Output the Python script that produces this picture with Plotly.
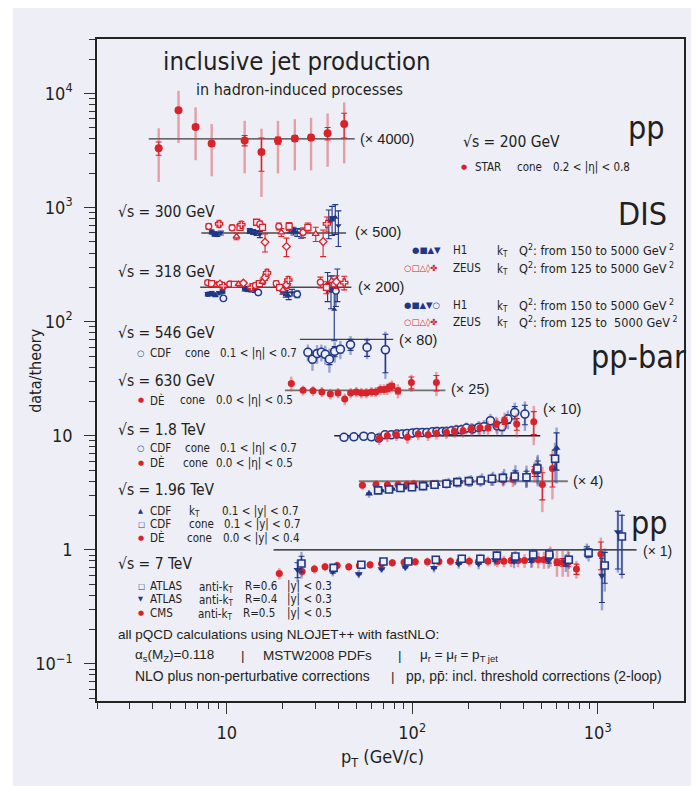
import plotly.graph_objects as go

# ---------------- data (data/theory ratios) ----------------
# pp, sqrt(s)=200 GeV, STAR
star_pt = [4.3, 5.5, 6.8, 8.3, 12.5, 15.4, 18.9, 23.3, 28.5, 35.0, 43.0]
star_r = [0.83, 1.78, 1.27, 0.91, 0.97, 0.77, 0.97, 1.01, 1.03, 1.12, 1.35]
star_tot = [0.41, 0.86, 0.62, 0.44, 0.47, 0.46, 0.47, 0.48, 0.50, 0.55, 0.74]
star_stat = [0.11, 0.05, 0.05, 0.04, 0.10, 0.25, 0.07, 0.06, 0.06, 0.14, 0.33]

# DIS 300 GeV
h1_300_pt = [8.3, 8.6, 8.9, 9.3, 13.3, 13.9, 14.5, 15.1, 21.8, 22.9, 24.0, 25.2, 35.5, 37.0, 38.5, 40.0]
h1_300_r = [1.02, 0.98, 0.97, 1.0, 1.04, 1.02, 1.0, 0.97, 1.08, 1.04, 1.01, 0.99, 1.24, 1.33, 1.37, 1.16]
h1_300_e = [0.04, 0.04, 0.04, 0.04, 0.05, 0.05, 0.05, 0.06, 0.08, 0.08, 0.08, 0.09, 0.35, 0.38, 0.40, 0.40]
h1_300_sym = ["circle", "square", "triangle-up", "triangle-down"] * 4
zeus_300_pt = [8.0, 9.1, 10.7, 11.3, 11.8, 12.0, 14.5, 15.1, 15.6, 16.1, 19.1, 19.7, 21.0, 21.7, 25.8, 27.4, 30.2, 33.1, 34.7]
zeus_300_r = [1.14, 1.2, 1.11, 0.93, 1.12, 1.18, 1.24, 1.2, 1.12, 0.83, 1.14, 1.01, 0.76, 1.14, 1.01, 1.12, 0.98, 0.84, 1.2]
zeus_300_e = [0.06, 0.07, 0.06, 0.06, 0.06, 0.08, 0.07, 0.07, 0.07, 0.15, 0.08, 0.08, 0.14, 0.09, 0.10, 0.10, 0.14, 0.22, 0.18]
zeus_300_sym = ["circle", "cross", "circle", "triangle-up", "square", "cross", "square", "circle", "square",
                "diamond", "circle", "triangle-up", "diamond", "square", "circle", "square", "triangle-up",
                "diamond", "cross"]

# DIS 318 GeV
h1_318_pt = [7.9, 8.3, 8.7, 9.1, 9.5, 12.5, 13.0, 13.6, 14.2, 20.0, 20.8, 21.6, 22.5, 35.0, 36.5, 38.0, 39.5]
h1_318_r = [0.87, 0.88, 0.86, 0.89, 0.92, 0.97, 0.96, 0.95, 0.94, 0.93, 0.88, 0.84, 0.90, 1.05, 0.95, 0.64, 1.10]
h1_318_e = [0.03, 0.03, 0.03, 0.03, 0.03, 0.04, 0.04, 0.04, 0.04, 0.06, 0.06, 0.06, 0.06, 0.30, 0.30, 0.30, 0.35]
h1_318_sym = ["circle", "square", "triangle-up", "triangle-down", "circle", "circle", "square", "triangle-up",
              "triangle-down", "circle", "square", "triangle-up", "triangle-down", "circle", "square",
              "triangle-up", "triangle-down"]
h1o_318_pt = [9.6, 14.8, 24.0, 38.8]
h1o_318_r = [0.80, 0.90, 0.87, 0.93]
h1o_318_e = [0.03, 0.04, 0.06, 0.25]
zeus_318_pt = [7.9, 8.3, 8.8, 9.2, 9.6, 10.4, 11.0, 11.6, 12.3, 13.6, 14.3, 15.0, 15.6, 16.1, 16.5,
               18.5, 19.3, 20.1, 21.0, 21.5, 32.0, 34.5, 36.8, 39.0, 43.0]
zeus_318_r = [1.10, 1.08, 1.05, 1.07, 1.03, 1.07, 1.06, 1.07, 1.09, 1.00, 1.04, 1.08, 1.12, 1.22, 1.34,
              1.08, 1.00, 0.95, 1.05, 1.16, 1.11, 1.00, 1.14, 1.12, 1.10]
zeus_318_e = [0.05, 0.05, 0.05, 0.05, 0.05, 0.04, 0.04, 0.04, 0.04, 0.05, 0.05, 0.05, 0.06, 0.07, 0.08,
              0.06, 0.06, 0.07, 0.07, 0.08, 0.12, 0.12, 0.13, 0.14, 0.15]
zeus_318_sym = ["circle", "square", "triangle-up", "diamond", "cross"] * 5

# ppbar 546 GeV CDF
cdf546_pt = [27.4, 29.0, 30.7, 32.4, 34.0, 35.8, 38.2, 41.0, 46.5, 57.1, 71.7]
cdf546_r = [0.77, 0.67, 0.75, 0.77, 0.74, 0.67, 0.785, 0.82, 0.90, 0.85, 0.81]
cdf546_tot = [0.13, 0.14, 0.14, 0.13, 0.14, 0.16, 0.16, 0.15, 0.17, 0.18, 0.36]
cdf546_stat = [0.05, 0.05, 0.05, 0.05, 0.05, 0.07, 0.08, 0.06, 0.10, 0.14, 0.30]

# ppbar 630 GeV D0
d0630_pt = [22.3, 25.8, 29.2, 32.6, 36.2, 39.8, 43.3, 46.6, 50.0, 53.2, 56.6, 60.3, 63.6, 67.4, 70.5,
            73.2, 75.6, 77.8, 83.8, 99.0, 135.0]
d0630_r = [1.15, 1.00, 0.99, 0.97, 0.93, 0.95, 0.84, 0.95, 0.97, 0.95, 0.95, 0.97, 0.97, 1.02, 1.02,
           1.03, 1.07, 1.09, 0.99, 1.17, 1.17]
d0630_tot = [0.17, 0.10, 0.10, 0.10, 0.10, 0.10, 0.10, 0.10, 0.10, 0.10, 0.10, 0.10, 0.10, 0.11, 0.11,
             0.12, 0.12, 0.13, 0.14, 0.20, 0.28]
d0630_stat = [0.03, 0.02, 0.02, 0.02, 0.02, 0.02, 0.02, 0.02, 0.03, 0.03, 0.03, 0.03, 0.03, 0.04, 0.04,
              0.04, 0.05, 0.05, 0.06, 0.14, 0.18]

# ppbar 1.8 TeV
cdf18_pt = [42.9, 48.5, 54.8, 60.3, 66.0, 71.3, 77.2, 82.8, 88.1, 93.7, 100.2, 106, 113, 120, 128.5, 136,
            145.5, 153, 162.6, 173, 184, 196, 211, 228, 244, 264, 287, 305, 328, 357, 405]
cdf18_r = [0.97, 0.98, 0.99, 0.98, 0.955, 1.02, 1.02, 1.035, 1.035, 1.047, 1.056, 1.069, 1.069, 1.069,
           1.084, 1.091, 1.091, 1.091, 1.106, 1.122, 1.129, 1.168, 1.145, 1.183, 1.20, 1.354, 1.224, 1.206,
           1.401, 1.601, 1.55]
cdf18_tot = [0.08, 0.08, 0.08, 0.08, 0.08, 0.08, 0.08, 0.09, 0.09, 0.09, 0.10, 0.10, 0.10, 0.10, 0.11, 0.11,
             0.11, 0.12, 0.12, 0.13, 0.13, 0.14, 0.14, 0.16, 0.17, 0.20, 0.20, 0.22, 0.26, 0.35, 0.45]
cdf18_stat = [0.02, 0.02, 0.02, 0.02, 0.02, 0.02, 0.02, 0.02, 0.02, 0.02, 0.02, 0.02, 0.02, 0.02, 0.03, 0.03,
              0.03, 0.03, 0.03, 0.04, 0.04, 0.04, 0.05, 0.05, 0.06, 0.08, 0.08, 0.10, 0.12, 0.20, 0.30]
d018_pt = [66.4, 73.4, 82.2, 94.2, 107.7, 121.8, 135, 153, 169, 188, 208, 232, 256, 284, 315, 366, 452]
d018_r = [0.95, 1.00, 1.02, 0.97, 1.035, 1.02, 1.047, 1.07, 1.09, 1.106, 1.145, 1.168, 1.168, 1.267, 1.354,
          1.267, 1.327]
d018_tot = [0.12, 0.12, 0.12, 0.12, 0.12, 0.12, 0.12, 0.13, 0.13, 0.14, 0.15, 0.16, 0.17, 0.20, 0.24, 0.30, 0.50]
d018_stat = [0.01, 0.01, 0.01, 0.01, 0.01, 0.01, 0.01, 0.02, 0.02, 0.02, 0.03, 0.04, 0.05, 0.07, 0.10, 0.15, 0.30]

# ppbar 1.96 TeV
d0196_pt = [53.9, 63.8, 73.5, 83.8, 93.7, 101.9, 114.3, 129.4, 151, 173, 200, 231, 267, 309, 349, 413, 457, 503, 570]
d0196_r = [0.92, 0.935, 0.93, 0.93, 0.935, 0.948, 0.935, 0.948, 0.96, 0.98, 0.994, 1.013, 1.027, 1.027, 1.04,
           1.068, 1.22, 0.935, 1.29]
d0196_tot = [0.08, 0.08, 0.08, 0.08, 0.08, 0.08, 0.08, 0.08, 0.09, 0.10, 0.10, 0.11, 0.12, 0.13, 0.15, 0.18,
             0.25, 0.40, 0.60]
d0196_stat = [0.01, 0.01, 0.01, 0.01, 0.01, 0.01, 0.01, 0.01, 0.01, 0.02, 0.02, 0.02, 0.03, 0.04, 0.05, 0.07,
              0.12, 0.25, 0.40]
cdfc196_pt = [65.5, 75, 86.4, 99.8, 114.4, 132, 153, 175, 202, 234, 269, 308, 357, 413, 473, 589]
cdfc196_r = [0.83, 0.845, 0.87, 0.885, 0.905, 0.93, 0.948, 0.98, 1.0, 1.013, 1.049, 1.068, 1.10, 1.083, 1.29, 1.57]
cdfc196_tot = [0.06, 0.06, 0.07, 0.07, 0.08, 0.08, 0.09, 0.10, 0.11, 0.12, 0.13, 0.15, 0.18, 0.20, 0.35, 0.60]
cdfc196_stat = [0.01, 0.01, 0.01, 0.01, 0.01, 0.01, 0.01, 0.02, 0.02, 0.02, 0.03, 0.04, 0.05, 0.07, 0.12, 0.30]
cdfk196_pt = [58.5, 68, 78, 90, 103, 118, 136, 157, 180, 207, 238, 273, 313, 360, 413, 475, 600]
cdfk196_r = [0.775, 0.83, 0.855, 0.875, 0.90, 0.92, 0.94, 0.97, 0.99, 1.01, 1.04, 1.06, 1.10, 1.16, 1.12, 1.30, 1.95]
cdfk196_tot = [0.06, 0.06, 0.07, 0.07, 0.08, 0.08, 0.09, 0.10, 0.11, 0.12, 0.13, 0.15, 0.18, 0.22, 0.25, 0.40, 1.00]
cdfk196_stat = [0.01, 0.01, 0.01, 0.01, 0.01, 0.01, 0.01, 0.02, 0.02, 0.02, 0.03, 0.04, 0.05, 0.07, 0.10, 0.20, 0.70]

# pp 7 TeV
cms_pt = [19.2, 25.5, 29.7, 33.9, 39.4, 45.5, 51.9, 59.3, 68.4, 78.1, 90.4, 103.8, 120.8, 139.3, 160.7, 180,
          203, 228, 256, 287, 312, 341, 372, 403, 443, 478, 513, 556, 603, 647, 692, 768, 1040]
cms_r = [0.62, 0.645, 0.68, 0.71, 0.73, 0.71, 0.73, 0.74, 0.755, 0.77, 0.78, 0.785, 0.785, 0.79, 0.795, 0.795,
         0.795, 0.795, 0.795, 0.795, 0.795, 0.805, 0.805, 0.805, 0.82, 0.82, 0.82, 0.89, 0.78, 0.78, 0.78, 0.68, 0.92]
cms_tot = [0.07, 0.06, 0.06, 0.06, 0.06, 0.06, 0.06, 0.06, 0.06, 0.06, 0.06, 0.06, 0.07, 0.07, 0.07, 0.07,
           0.08, 0.08, 0.08, 0.09, 0.09, 0.10, 0.10, 0.11, 0.12, 0.13, 0.14, 0.18, 0.20, 0.20, 0.20, 0.12, 0.36]
cms_stat = [0.01, 0.01, 0.01, 0.01, 0.01, 0.01, 0.01, 0.01, 0.01, 0.01, 0.01, 0.01, 0.01, 0.01, 0.01, 0.01,
            0.01, 0.01, 0.01, 0.01, 0.01, 0.02, 0.02, 0.02, 0.02, 0.03, 0.03, 0.04, 0.05, 0.06, 0.07, 0.07, 0.25]
atl6_pt = [25.3, 37.7, 53.2, 70, 95.3, 134, 185, 233, 286, 360, 449, 548, 698, 893, 1091, 1350]
atl6_r = [0.76, 0.695, 0.74, 0.79, 0.79, 0.82, 0.835, 0.835, 0.89, 0.875, 0.91, 0.91, 0.82, 0.94, 0.73, 1.31]
atl6_tot = [0.20, 0.06, 0.05, 0.05, 0.05, 0.06, 0.07, 0.08, 0.09, 0.10, 0.11, 0.12, 0.14, 0.15, 0.30, 0.75]
atl6_stat = [0.12, 0.02, 0.01, 0.01, 0.01, 0.01, 0.01, 0.01, 0.02, 0.02, 0.03, 0.04, 0.06, 0.08, 0.22, 0.70]
atl4_pt = [24.1, 37.3, 51.5, 68.4, 91.8, 131, 178, 228, 279, 354, 438, 543, 673, 873, 1054, 1285]
atl4_r = [0.67, 0.645, 0.615, 0.68, 0.705, 0.695, 0.755, 0.755, 0.815, 0.79, 0.805, 0.805, 0.78, 0.985, 0.595, 1.43]
atl4_tot = [0.15, 0.06, 0.05, 0.05, 0.05, 0.06, 0.07, 0.08, 0.09, 0.10, 0.11, 0.12, 0.14, 0.15, 0.30, 0.80]
atl4_stat = [0.10, 0.02, 0.01, 0.01, 0.01, 0.01, 0.01, 0.01, 0.02, 0.02, 0.03, 0.04, 0.06, 0.08, 0.25, 0.75]

# offset factors (as drawn) and reference-line pT ranges
offsets = {"star": 4000, "dis300": 600, "dis318": 200, "cdf546": 70, "d0630": 25, "tev18": 10, "tev196": 4, "lhc7": 1}
ref_ranges = {"star": [3.8, 49], "dis300": [7.3, 44], "dis318": [7.2, 47], "cdf546": [24.8, 79],
              "d0630": [20.6, 151], "tev18": [38, 490], "tev196": [51.6, 690], "lhc7": [17.9, 1620]}
ref_colors = {"star": "#3c3c3c", "dis300": "#4a4a4a", "dis318": "#4a4a4a", "cdf546": "#444444",
              "d0630": "#707070", "tev18": "#222222", "tev196": "#7a7a7a", "lhc7": "#111111"}
ref_widths = {"star": 1.3, "dis300": 1.5, "dis318": 1.5, "cdf546": 1.3, "d0630": 1.8, "tev18": 1.3,
              "tev196": 2.0, "lhc7": 1.3}

# ---------------- style ----------------
BG = "#edeef6"
RED = "#d9232b"
RED_L = "rgba(222,60,66,0.45)"
BLUE = "#1f3785"
BLUE_L = "rgba(50,75,160,0.45)"
TXT = "#231f20"
SANS = "Liberation Sans, Arial, Helvetica, sans-serif"
NARROW = "DejaVu Sans Condensed, Liberation Sans, sans-serif"

# page is offset by the 8px body margin: figure size and plot-area edges in page pixels
OFF = 8
W, H = 699 - OFF, 786 - OFF
L, R, T, B = 97.3, 684.3, 39.0, 700.7

fig = go.Figure()

# reference lines
for key, (a, b) in ref_ranges.items():
    f = offsets[key]
    fig.add_trace(go.Scatter(x=[a, b], y=[f, f], mode="lines",
                             line=dict(color=ref_colors[key], width=ref_widths[key]),
                             hoverinfo="skip", showlegend=False))


def series(x, r, factor, tot, stat, color, light, symbol, size, hollow=False, lw=1.5, cap=3):
    y = [v * factor for v in r]
    if tot is not None:
        fig.add_trace(go.Scatter(x=x, y=y, mode="markers",
                                 marker=dict(size=1, color="rgba(0,0,0,0)"),
                                 error_y=dict(type="data", array=[e * factor for e in tot],
                                              color=light, thickness=2.4, width=0),
                                 hoverinfo="skip", showlegend=False))
    err = None
    if stat is not None:
        err = dict(type="data", array=[e * factor for e in stat], color=color, thickness=1.1, width=cap)
    mk = dict(symbol=symbol, size=size, color=BG if hollow else color,
              line=dict(color=color, width=lw if hollow else 0))
    fig.add_trace(go.Scatter(x=x, y=y, mode="markers", marker=mk, error_y=err,
                             hoverinfo="skip", showlegend=False))


# STAR
series(star_pt, star_r, offsets["star"], star_tot, star_stat, RED, RED_L, "circle", 8)
# DIS
series(h1_300_pt, h1_300_r, offsets["dis300"], None, h1_300_e, BLUE, BLUE_L, h1_300_sym, 5.5, cap=3)
series(zeus_300_pt, zeus_300_r, offsets["dis300"], None, zeus_300_e, RED, RED_L, zeus_300_sym, 6,
       hollow=True, lw=1.3, cap=3)
series(h1_318_pt, h1_318_r, offsets["dis318"], None, h1_318_e, BLUE, BLUE_L, h1_318_sym, 5.5, cap=3)
series(h1o_318_pt, h1o_318_r, offsets["dis318"], None, h1o_318_e, BLUE, BLUE_L, "circle", 6.5,
       hollow=True, lw=1.4, cap=3)
series(zeus_318_pt, zeus_318_r, offsets["dis318"], None, zeus_318_e, RED, RED_L, zeus_318_sym, 6,
       hollow=True, lw=1.3, cap=3)
# 546 GeV
series(cdf546_pt, cdf546_r, offsets["cdf546"], cdf546_tot, cdf546_stat, BLUE, BLUE_L, "circle", 8,
       hollow=True, lw=1.6)
# 630 GeV
series(d0630_pt, d0630_r, offsets["d0630"], d0630_tot, d0630_stat, RED, RED_L, "circle", 7)
# 1.8 TeV
series(cdf18_pt, cdf18_r, offsets["tev18"], cdf18_tot, cdf18_stat, BLUE, BLUE_L, "circle", 8,
       hollow=True, lw=1.6)
series(d018_pt, d018_r, offsets["tev18"], d018_tot, d018_stat, RED, RED_L, "circle", 7)
# 1.96 TeV
series(d0196_pt, d0196_r, offsets["tev196"], d0196_tot, d0196_stat, RED, RED_L, "circle", 7)
series(cdfk196_pt, cdfk196_r, offsets["tev196"], cdfk196_tot, cdfk196_stat, BLUE, BLUE_L, "triangle-up", 7)
series(cdfc196_pt, cdfc196_r, offsets["tev196"], cdfc196_tot, cdfc196_stat, BLUE, BLUE_L, "square", 7,
       hollow=True, lw=1.6)
# 7 TeV
series(cms_pt, cms_r, offsets["lhc7"], cms_tot, cms_stat, RED, RED_L, "circle", 7)
series(atl4_pt, atl4_r, offsets["lhc7"], atl4_tot, atl4_stat, BLUE, BLUE_L, "triangle-down", 7)
series(atl6_pt, atl6_r, offsets["lhc7"], atl6_tot, atl6_stat, BLUE, BLUE_L, "square", 7,
       hollow=True, lw=1.6)

# ---------------- text ----------------
ann = []


def px(X):
    return (X - L) / (R - L)


def py(Y):
    return (B - Y) / (B - T)


def txt(X, Y, s, size=11.5, family=NARROW, anchor="left", color=TXT, angle=0):
    ann.append(dict(x=px(X), y=py(Y), xref="paper", yref="paper", text=s, showarrow=False,
                    xanchor=anchor, yanchor="middle", textangle=angle,
                    font=dict(family=family, size=size, color=color)))


def sym(X, Y, s, color, size=8):
    txt(X, Y, s, size=size, family="DejaVu Sans, sans-serif", color=color)


BIG = 32
SQ = 15.5
SC = 14.5
QS = 12.6

txt(297.6, 61, "inclusive jet production", 25.5, NARROW, "center")
txt(300, 89, "in hadron-induced processes", 16, NARROW, "center")

txt(358, 138.5, "(× 4000)", SC, SANS)
txt(626, 128, "pp", BIG)
txt(461, 142, "√s = 200 GeV", SQ)
sym(459.5, 167, "●", RED, 7)
txt(473, 167, "STAR")
txt(515.7, 167, "cone")
txt(551.3, 167, "0.2 < |η| < 0.8")

txt(616, 214, "DIS", BIG)
txt(116, 212, "√s = 300 GeV", SQ)
txt(353, 232, "(× 500)", SC, SANS)
sym(410, 250, "●■▲▼", BLUE, 8.5)
txt(451, 250, "H1")
txt(495.7, 251, "k<sub>T</sub>")
txt(517.3, 250, "Q<sup>2</sup>: from 150 to 5000 GeV<sup> 2</sup>", QS)
sym(402, 268, "○□△◊✤", RED, 8.5)
txt(451, 268, "ZEUS")
txt(495.7, 269, "k<sub>T</sub>")
txt(517.3, 268, "Q<sup>2</sup>: from 125 to 5000 GeV<sup> 2</sup>", QS)

txt(116, 272, "√s = 318 GeV", SQ)
txt(356, 286.7, "(× 200)", SC, SANS)
sym(402, 305, "●■▲▼○", BLUE, 8.5)
txt(451, 305, "H1")
txt(495.7, 306, "k<sub>T</sub>")
txt(517.3, 305, "Q<sup>2</sup>: from 150 to 5000 GeV<sup> 2</sup>", QS)
sym(402, 321.7, "○□△◊✤", RED, 8.5)
txt(451, 321.7, "ZEUS")
txt(495.7, 322.7, "k<sub>T</sub>")
txt(517.3, 321.7, "Q<sup>2</sup>: from 125 to  5000 GeV<sup> 2</sup>", QS)

txt(116, 333, "√s = 546 GeV", SQ)
sym(135.5, 352.7, "○", BLUE, 8.5)
txt(148.3, 352.7, "CDF")
txt(183.3, 352.7, "cone")
txt(218, 352.7, "0.1 < |η| < 0.7")
txt(397, 340, "(× 80)", SC, SANS)
txt(589, 357, "pp-bar", BIG)

txt(116, 381, "√s = 630 GeV", SQ)
sym(136, 400, "●", RED, 7)
txt(148.3, 400, "DÈ")
txt(178, 400, "cone")
txt(214, 400, "0.0 < |η| < 0.5")
txt(449.3, 389.3, "(× 25)", SC, SANS)

txt(116, 430, "√s = 1.8 TeV", SQ)
sym(135.5, 447.7, "○", BLUE, 8.5)
txt(148.3, 447.7, "CDF")
txt(183.3, 447.7, "cone")
txt(218, 447.7, "0.1 < |η| < 0.7")
sym(136, 462.7, "●", RED, 7)
txt(148.3, 462.7, "DÈ")
txt(181.7, 462.7, "cone")
txt(214, 462.7, "0.0 < |η| < 0.5")
txt(541.7, 409.3, "(× 10)", SC, SANS)

txt(116, 490, "√s = 1.96 TeV", SQ)
sym(136, 510.7, "▲", BLUE, 6.5)
txt(148.7, 510.7, "CDF")
txt(186.9, 511.2, "k<sub>T</sub>")
txt(220.5, 510.7, "0.1 < |y| < 0.7")
sym(136, 523.8, "□", BLUE, 7.5)
txt(148.7, 523.8, "CDF")
txt(186.9, 523.8, "cone")
txt(222.4, 523.8, "0.1 < |y| < 0.7")
sym(136, 537.7, "●", RED, 7)
txt(148.7, 537.7, "DÈ")
txt(185, 537.7, "cone")
txt(221, 537.7, "0.0 < |y| < 0.4")
txt(571, 480.7, "(× 4)", SC, SANS)

txt(629, 523, "pp", BIG)
txt(641, 550.5, "(× 1)", 14, SANS)
txt(116, 564, "√s = 7 TeV", SQ)
sym(136, 586, "□", BLUE, 7.5)
txt(148.7, 586, "ATLAS")
txt(197.5, 587, "anti-k<sub>T</sub>")
txt(243.4, 586, "R=0.6")
txt(285, 586, "|y| < 0.3")
sym(136, 599, "▼", BLUE, 6.5)
txt(148.7, 599, "ATLAS")
txt(197.5, 600, "anti-k<sub>T</sub>")
txt(243.4, 599, "R=0.4")
txt(285, 599, "|y| < 0.3")
sym(136, 613, "●", RED, 7)
txt(148.7, 613, "CMS")
txt(196.4, 614, "anti-k<sub>T</sub>")
txt(241.5, 613, "R=0.5")
txt(285, 613, "|y| < 0.5")

FS = 13.5
txt(116, 634, "all pQCD calculations using NLOJET++ with fastNLO:", FS, SANS)
txt(133, 655, "α<sub>s</sub>(M<sub>Z</sub>)=0.118", FS, SANS)
txt(239, 655, "|", FS, SANS)
txt(261, 655, "MSTW2008 PDFs", FS, SANS)
txt(396, 655, "|", FS, SANS)
txt(418, 655, "μ<sub>r</sub> = μ<sub>f</sub> = p<sub>T jet</sub>", FS, SANS)
txt(133, 676, "NLO plus non-perturbative corrections", 13.9, SANS)
txt(389, 676, "|", FS, SANS)
txt(404, 676, "pp, pp̄: incl. threshold corrections (2-loop)", 13.9, SANS)

# axis titles
txt(35, 370, "data/theory", 16, NARROW, "center", angle=-90)
txt(383, 758, "p<sub>T</sub> (GeV/c)", 18, NARROW, "center")

# ---------------- axes ----------------
x_major = [10, 100, 1000]
x_major_text = ["10", "10<sup>2</sup>", "10<sup>3</sup>"]
y_major = [0.1, 1, 10, 100, 1000, 10000]
y_major_text = ["10<sup>−1</sup>", "1", "10", "10<sup>2</sup>", "10<sup>3</sup>", "10<sup>4</sup>"]
x_minor = [m * 10 ** e for e in range(0, 4) for m in range(2, 10)]
y_minor = [m * 10 ** e for e in range(-2, 5) for m in range(2, 10)]

fig.update_xaxes(type="log", range=[0.30103, 3.465], showgrid=False, zeroline=False,
                 showline=True, linecolor="#222", linewidth=1.6, mirror=True,
                 tickmode="array", tickvals=x_major, ticktext=x_major_text,
                 ticks="outside", ticklen=11, tickwidth=1.3, tickcolor="#333",
                 ticklabelstandoff=4,
                 tickfont=dict(family=NARROW, size=18, color=TXT),
                 minor=dict(tickmode="array", tickvals=x_minor, ticks="outside", ticklen=6,
                            tickwidth=1, tickcolor="#333", showgrid=False))
fig.update_yaxes(type="log", range=[-1.325, 4.478], showgrid=False, zeroline=False,
                 showline=True, linecolor="#222", linewidth=1.6, mirror=True,
                 tickmode="array", tickvals=y_major, ticktext=y_major_text,
                 ticks="outside", ticklen=11, tickwidth=1.3, tickcolor="#333",
                 ticklabelstandoff=8,
                 tickfont=dict(family=NARROW, size=18, color=TXT),
                 minor=dict(tickmode="array", tickvals=y_minor, ticks="outside", ticklen=6,
                            tickwidth=1, tickcolor="#333", showgrid=False))

fig.update_layout(
    width=W, height=H, autosize=False,
    margin=dict(l=L - OFF, r=W - (R - OFF), t=T - OFF, b=H - (B - OFF), pad=0),
    paper_bgcolor="white", plot_bgcolor=BG,
    showlegend=False,
    annotations=ann,
    shapes=[dict(type="rect", xref="paper", yref="paper", x0=px(13), x1=px(697), y0=py(786), y1=py(7),
                 fillcolor=BG, line=dict(width=0), layer="below")],
)

fig.write_html("out.html")
